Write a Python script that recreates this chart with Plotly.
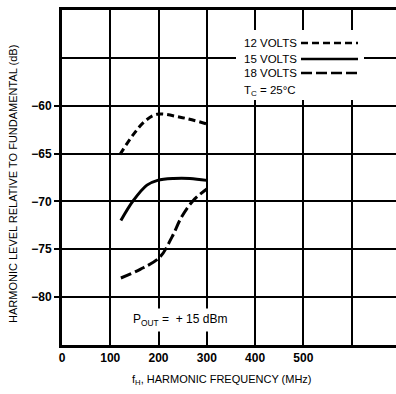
import plotly.graph_objects as go

# Data
f12 = [120, 148, 172, 197, 245, 300]
v12 = [-65.1, -63.0, -61.6, -60.9, -61.2, -61.9]
f15 = [122, 148, 176, 198, 231, 265, 300]
v15 = [-72.0, -69.9, -68.3, -67.8, -67.6, -67.6, -67.8]
f18 = [122, 162, 203, 228, 248, 272, 300]
v18 = [-78.0, -77.1, -75.8, -73.7, -71.6, -69.9, -68.7]

x_ticks = [0, 100, 200, 300, 400, 500]
x_labels = ["0", "100", "200", "300", "400", "500"]
x_extra_grid = [600, 700]
y_ticks = [-80, -75, -70, -65, -60]
y_labels = ["\u221280", "\u221275", "\u221270", "\u221265", "\u221260"]
y_extra_grid = [-85, -55, -50]

series_names = ["12 VOLTS", "15 VOLTS", "18 VOLTS"]
dashes = ["7px,4px", "solid", "11px,4px"]

FONT = "Liberation Sans, Arial, sans-serif"

fig = go.Figure()
for f, v, name, d in zip([f12, f15, f18], [v12, v15, v18], series_names, dashes):
    fig.add_trace(go.Scatter(x=f, y=v, mode="lines", name=name,
                             line=dict(color="black", width=3, dash=d, shape="spline"),
                             showlegend=False))

W, H = 396, 394
L, R, T, B = 62, 0, 10, 49
pw, ph = W - L - R, H - T - B

def px(x):
    return (x - L) / pw

def py(y):
    return (H - B - y) / ph

shapes = []
# white box behind legend
shapes.append(dict(type="rect", xref="paper", yref="paper", layer="above",
                   x0=px(236), x1=px(364), y0=py(100), y1=py(30),
                   fillcolor="white", line=dict(width=0)))
key_y = [43, 59, 73]
for ky, d in zip(key_y, dashes):
    shapes.append(dict(type="line", xref="paper", yref="paper", layer="above",
                       x0=px(301), x1=px(358), y0=py(ky), y1=py(ky),
                       line=dict(color="black", width=2.5, dash=d)))

annotations = []
for ky, name in zip(key_y, series_names):
    annotations.append(dict(xref="paper", yref="paper", x=px(242), y=py(ky),
                            xanchor="left", yanchor="middle", text=name, showarrow=False,
                            font=dict(family=FONT, size=11.5, color="black")))
annotations.append(dict(xref="paper", yref="paper", x=px(242), y=py(91),
                        xanchor="left", yanchor="middle", text="T<sub>C</sub> = 25\u00b0C",
                        showarrow=False, font=dict(family=FONT, size=11.5, color="black")))
annotations.append(dict(x=244, y=-82.4, xanchor="center", yanchor="middle",
                        text="P<sub>OUT</sub> =  + 15 dBm", showarrow=False,
                        bgcolor="white", borderpad=3,
                        font=dict(family=FONT, size=12, color="black")))
# axis titles
annotations.append(dict(xref="paper", yref="paper", x=px(222), y=py(380),
                        xanchor="center", yanchor="middle",
                        text="f<sub>H</sub>, HARMONIC FREQUENCY (MHz)", showarrow=False,
                        font=dict(family=FONT, size=11, color="black")))
annotations.append(dict(xref="paper", yref="paper", x=px(13), y=py(184),
                        xanchor="center", yanchor="middle", textangle=-90,
                        text="HARMONIC LEVEL RELATIVE TO FUNDAMENTAL (dB)", showarrow=False,
                        font=dict(family=FONT, size=11, color="black")))

fig.update_layout(
    width=W, height=H,
    margin=dict(l=L, r=R, t=T, b=B, autoexpand=False),
    paper_bgcolor="white", plot_bgcolor="white",
    font=dict(family=FONT, size=12, color="black"),
    shapes=shapes, annotations=annotations,
)
fig.update_xaxes(range=[0, 692], tickvals=x_ticks, ticktext=x_labels,
                 showgrid=True, gridcolor="black", gridwidth=1.5,
                 minor=dict(tickvals=x_extra_grid, showgrid=True, gridcolor="black", gridwidth=1.5),
                 showline=True, linecolor="black", linewidth=3, mirror=True,
                 ticks="", zeroline=False, automargin=False,
                 tickfont=dict(family=FONT, size=12, color="black", weight="bold"))
fig.update_yaxes(range=[-85, -50], tickvals=y_ticks, ticktext=y_labels,
                 showgrid=True, gridcolor="black", gridwidth=1.5,
                 minor=dict(tickvals=y_extra_grid, showgrid=True, gridcolor="black", gridwidth=1.5),
                 showline=True, linecolor="black", linewidth=3, mirror=True,
                 ticks="outside", ticklen=5, tickwidth=1.5, tickcolor="black",
                 zeroline=False, automargin=False,
                 tickfont=dict(family=FONT, size=12, color="black", weight="bold"))

fig.write_html("out.html", config={"displayModeBar": False},
               post_script="document.body.style.margin='0px';document.body.style.overflow='hidden';")
